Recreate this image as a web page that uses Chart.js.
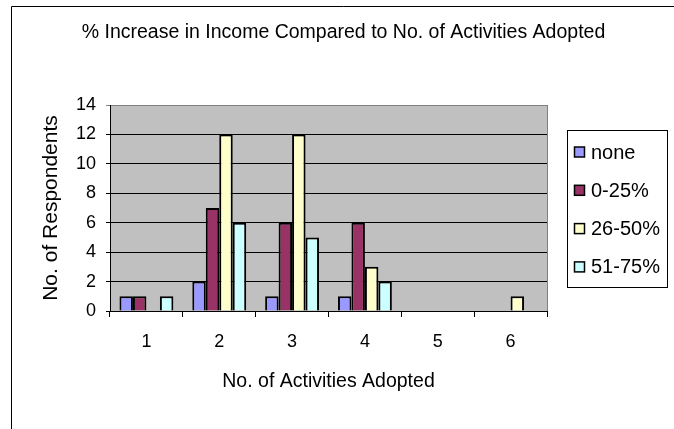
<!DOCTYPE html>
<html>
<head>
<meta charset="utf-8">
<title>Income vs Activities</title>
<script src="https://cdn.jsdelivr.net/npm/chart.js@4"></script>
<style>
  body { margin: 0; background: #fff; }
  #income-chart { display: block; }
</style>
</head>
<body>
<canvas id="income-chart" width="674" height="429"></canvas>
<script>
// datos del grafico
const activities = ["1", "2", "3", "4", "5", "6"];
const seriesNames = ["none", "0-25%", "26-50%", "51-75%"];
const noneValues = [1, 2, 1, 1, null, null];
const lowValues = [1, 7, 6, 6, null, null];
const midValues = [null, 12, 12, 3, null, 1];
const highValues = [1, 6, 5, 2, null, null];
const yTicks = [0, 2, 4, 6, 8, 10, 12, 14];

const colores = ["#9999ff", "#993366", "#ffffcc", "#ccffff"];
const fuente = "'Liberation Sans', Arial, sans-serif";

// fondo gris del area de trazado + marco exterior
const plotBackground = {
  id: "plotBackground",
  beforeDraw(chart) {
    const { ctx, chartArea } = chart;
    ctx.save();
    ctx.fillStyle = "#fff";
    ctx.fillRect(0, 0, chart.width, chart.height);
    ctx.strokeStyle = "#000";
    ctx.lineWidth = 1;
    ctx.beginPath();
    ctx.moveTo(11.5, chart.height + 2);
    ctx.lineTo(11.5, 6.5);
    ctx.lineTo(chart.width + 2, 6.5);
    ctx.stroke();
    ctx.fillStyle = "#c0c0c0";
    ctx.fillRect(chartArea.left, chartArea.top, chartArea.width, chartArea.height);
    ctx.strokeStyle = "#808080";
    ctx.strokeRect(chartArea.left + 0.5, chartArea.top + 0.5, chartArea.width, chartArea.height);
    ctx.restore();
  },
};

// leyenda con recuadro a la derecha
const boxLegend = {
  id: "boxLegend",
  afterDraw(chart) {
    const { ctx } = chart;
    const x = 567, y = 130, w = 100, h = 157;
    ctx.save();
    ctx.fillStyle = "#fff";
    ctx.fillRect(x, y, w, h);
    ctx.strokeStyle = "#000";
    ctx.lineWidth = 1;
    ctx.strokeRect(x + 0.5, y + 0.5, w, h);
    ctx.font = "20px " + fuente;
    ctx.textBaseline = "middle";
    chart.data.datasets.forEach((ds, i) => {
      const cy = 152 + i * 38.3;
      ctx.fillStyle = ds.backgroundColor;
      ctx.fillRect(574, cy - 5, 10, 10);
      ctx.lineWidth = 1.5;
      ctx.strokeRect(574.5, cy - 5, 10, 10);
      ctx.fillStyle = "#000";
      ctx.fillText(ds.label, 591, cy + 1);
    });
    ctx.restore();
  },
};

const serie = (i, data) => ({
  label: seriesNames[i],
  data: data,
  backgroundColor: colores[i],
  borderColor: "#000",
  borderWidth: 2,
  categoryPercentage: 0.74,
  barPercentage: 1.0,
});

const contenedorIncome = document.querySelector("#income-chart").getContext("2d");

const incomeChart = new Chart(contenedorIncome, {
  type: "bar",
  data: {
    labels: activities,
    datasets: [
      serie(0, noneValues),
      serie(1, lowValues),
      serie(2, midValues),
      serie(3, highValues),
    ],
  },
  options: {
    responsive: false,
    animation: false,
    layout: { padding: { left: 13, right: 0, top: 0, bottom: 0 } },
    plugins: {
      legend: { display: false },
      tooltip: { enabled: false },
      title: {
        display: true,
        text: "% Increase in Income Compared to No. of Activities Adopted",
        color: "#000",
        font: { family: fuente, size: 19.5, weight: "normal" },
        padding: { top: 21, bottom: 60.6 },
      },
    },
    scales: {
      x: {
        afterFit(scale) { scale.height = 118; },
        grid: { offset: true, drawOnChartArea: false, tickLength: 6, color: "#000" },
        border: { color: "#000" },
        ticks: { color: "#000", padding: 14, font: { family: fuente, size: 18 } },
        title: {
          display: true,
          text: "No. of Activities Adopted",
          color: "#000",
          font: { family: fuente, size: 19.5 },
          padding: { bottom: 36 },
        },
      },
      y: {
        min: 0,
        max: 14,
        afterFit(scale) { scale.width = 97; },
        afterBuildTicks(scale) { scale.ticks = yTicks.map(v => ({ value: v })); },
        grid: {
          tickLength: 4,
          color: ctx => (ctx.tick && ctx.tick.value === 14 ? "#808080" : "#000"),
        },
        border: { color: "#000" },
        ticks: { color: "#000", padding: 10, font: { family: fuente, size: 18 } },
        title: {
          display: true,
          text: "No. of Respondents",
          color: "#000",
          font: { family: fuente, size: 21 },
          padding: { top: 26 },
        },
      },
      // eje vacio a la derecha, solo reserva el hueco de la leyenda
      espacio: {
        type: "linear",
        position: "right",
        afterFit(scale) { scale.width = 127; },
        grid: { display: false },
        border: { display: false },
        ticks: { display: false },
      },
    },
  },
  plugins: [plotBackground, boxLegend],
});
</script>
</body>
</html>
